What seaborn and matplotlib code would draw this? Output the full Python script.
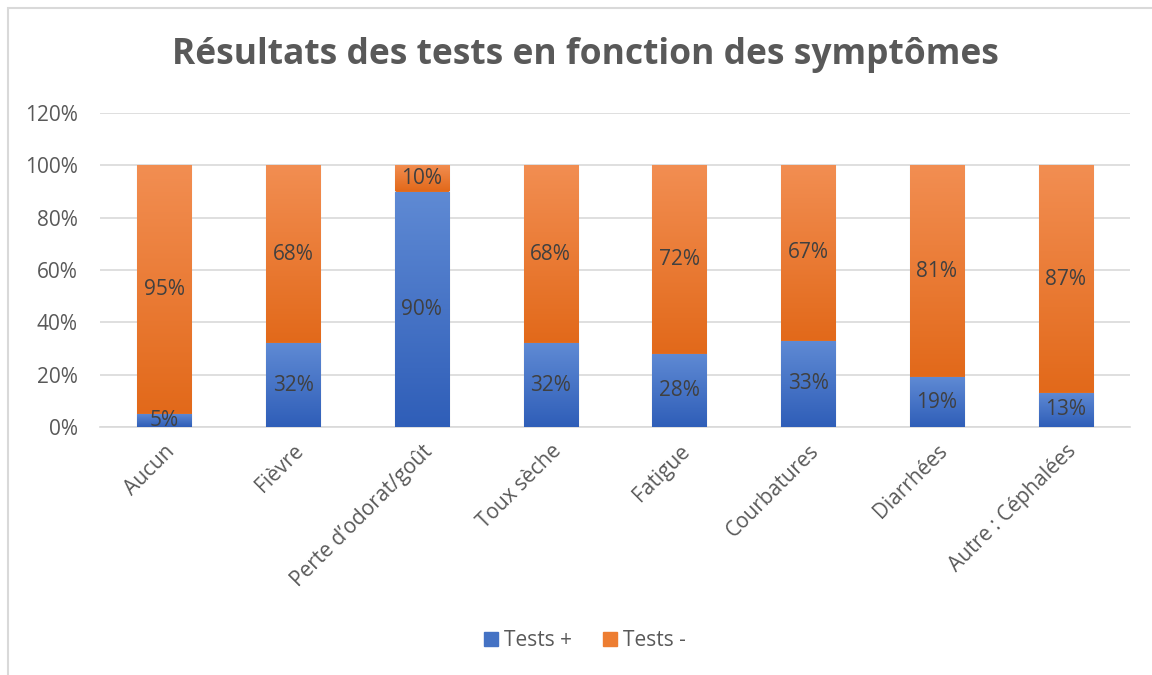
import numpy as np
import pandas as pd
import matplotlib
matplotlib.use("Agg")
import matplotlib.pyplot as plt
import matplotlib.patches as mpatches
from matplotlib.colors import LinearSegmentedColormap
import seaborn as sns

categories = ["Aucun", "Fièvre", "Perte d’odorat/goût", "Toux sèche", "Fatigue",
              "Courbatures", "Diarrhées", "Autre : Céphalées"]
tests_pos = [5, 32, 90, 32, 28, 33, 19, 13]
tests_neg = [95, 68, 10, 68, 72, 67, 81, 87]
series_names = ["Tests +", "Tests -"]
title = "Résultats des tests en fonction des symptômes"
yticks = [0, 20, 40, 60, 80, 100, 120]

sns.set_theme(style="white")
plt.rcParams['font.family'] = ['Open Sans', 'DejaVu Sans']

BLUE_TOP, BLUE_BOT = "#5F8AD4", "#2F5EB8"
OR_TOP, OR_BOT = "#F28E52", "#E2691A"
TXT = "#404040"

df = pd.DataFrame({"cat": categories, "pos": tests_pos, "neg": tests_neg})
df["total"] = df["pos"] + df["neg"]

fig = plt.figure(figsize=(11.52, 6.75), dpi=100)
ax = fig.add_axes([100/1152, 1-427/675, 1030/1152, (427-113)/675])

sns.barplot(data=df, x="cat", y="total", color=OR_BOT, width=0.42, ax=ax,
            saturation=1, zorder=3)
n_or = len(ax.patches)
sns.barplot(data=df, x="cat", y="pos", color=BLUE_BOT, width=0.42, ax=ax,
            saturation=1, zorder=4)

ax.set_ylim(0, 120)
ax.set_xlim(-0.5, len(categories) - 0.5)

def grad(c1, c2):
    return LinearSegmentedColormap.from_list("g", [c2, c1])

for i, p in enumerate(ax.patches):
    x0, y0 = p.get_x(), p.get_y()
    w, h = p.get_width(), p.get_height()
    if i < n_or:
        cmap = grad(OR_TOP, OR_BOT)
        yb = tests_pos[i]
        ext = [x0, x0 + w, yb, y0 + h]
    else:
        cmap = grad(BLUE_TOP, BLUE_BOT)
        ext = [x0, x0 + w, y0, y0 + h]
    g = np.linspace(0, 1, 256).reshape(-1, 1)
    im = ax.imshow(g, cmap=cmap, aspect="auto", extent=ext, origin="lower",
                   zorder=p.get_zorder() + 0.5)
    im.set_clip_path(p)
    p.set_edgecolor("#C8C8C8")
    p.set_linewidth(0.8)

ax.set_xlim(-0.5, len(categories) - 0.5)
ax.set_ylim(0, 120)

for i in range(len(categories)):
    ax.text(i, tests_pos[i] / 2, f"{tests_pos[i]}%", ha="center", va="center",
            fontsize=15, color=TXT, zorder=10)
    ax.text(i, tests_pos[i] + tests_neg[i] / 2, f"{tests_neg[i]}%", ha="center",
            va="center", fontsize=15, color=TXT, zorder=10)

ax.set_yticks(yticks)
ax.set_yticklabels([f"{v}%" for v in yticks], fontsize=15, color="#595959")
ax.tick_params(axis="y", length=0, pad=16)
ax.set_xticks(range(len(categories)))
ax.set_xticklabels(categories, rotation=45, ha="right", rotation_mode="anchor",
                   fontsize=15, color="#595959")
ax.tick_params(axis="x", length=0, pad=10)
ax.set_xlabel("")
ax.set_ylabel("")
ax.grid(axis="y", color="#D9D9D9", linewidth=1.2, zorder=0)
ax.set_axisbelow(True)
for s in ["top", "right", "left"]:
    ax.spines[s].set_visible(False)
ax.spines["bottom"].set_color("#D9D9D9")
ax.spines["bottom"].set_linewidth(1.2)

fig.text(585/1152, 1 - 55/675, title, ha="center", va="center",
         fontsize=25.5, fontweight="bold", color="#595959")

handles = [mpatches.Patch(color="#4472C4", label=series_names[0]),
           mpatches.Patch(color="#ED7D31", label=series_names[1])]
fig.legend(handles=handles, loc="center", bbox_to_anchor=(585/1152, 1 - 641/675),
           ncol=2, frameon=False, fontsize=15, handlelength=0.65, handleheight=0.65,
           columnspacing=1.5, handletextpad=0.3, labelcolor="#595959")

fig.add_artist(mpatches.Rectangle((8/1152, -0.05), 1.2, 1 - 8/675 + 0.05,
                                  transform=fig.transFigure, fill=False,
                                  edgecolor="#D9D9D9", linewidth=1.5))

fig.savefig("out.png", dpi=100)
